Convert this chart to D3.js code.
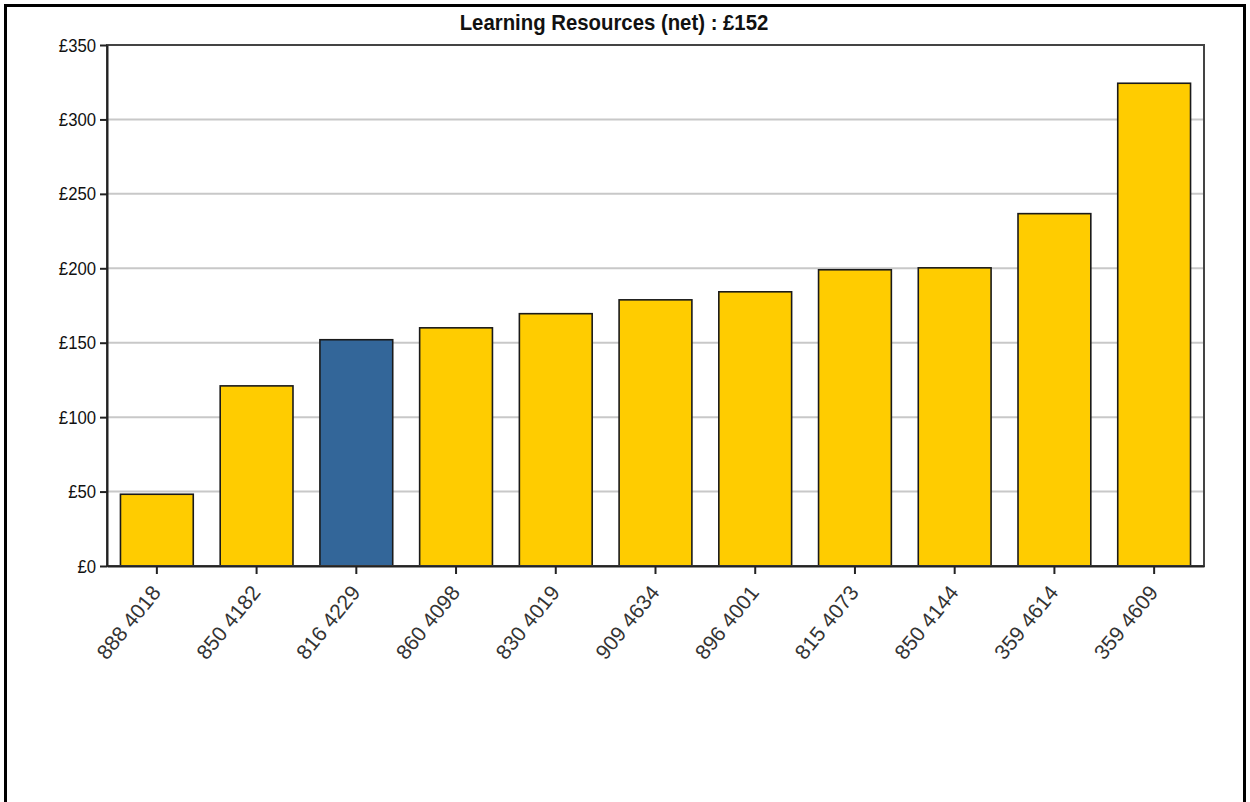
<!DOCTYPE html>
<html>
<head>
<meta charset="utf-8">
<script src="https://cdn.jsdelivr.net/npm/d3@7"></script>
<style>
  html, body { margin: 0; padding: 0; background: #fff; }
  svg { display: block; }
</style>
</head>
<body>
<svg id="chart" width="1250" height="802"></svg>
<script>
const titleText = "Learning Resources (net) : £152";
const categories = ["888 4018", "850 4182", "816 4229", "860 4098", "830 4019", "909 4634", "896 4001", "815 4073", "850 4144", "359 4614", "359 4609"];
const values = [48.2, 121, 152, 160, 169.5, 178.8, 184.2, 199, 200.3, 236.7, 324.3];
const highlighted = ["816 4229"];
const yTicks = [0, 50, 100, 150, 200, 250, 300, 350];

const svg = d3.select("#chart");
const plot = { left: 107, right: 1204, top: 45, bottom: 566 };

// outer frame
svg.append("rect").attr("x", 5.5).attr("y", 5.5).attr("width", 1239).attr("height", 900)
  .attr("fill", "none").attr("stroke", "#000").attr("stroke-width", 3);

const x = d3.scaleBand().domain(categories).range([plot.left, plot.right])
  .paddingInner(0.27).paddingOuter(0.135);
const y = d3.scaleLinear().domain([0, 350]).range([plot.bottom, plot.top]);

// gridlines
svg.append("g").selectAll("line").data(yTicks.filter(d => d > 0 && d < 350)).join("line")
  .attr("x1", plot.left).attr("x2", plot.right)
  .attr("y1", d => y(d)).attr("y2", d => y(d))
  .attr("stroke", "#c8c8c8").attr("stroke-width", 2);

// bars
svg.append("g").selectAll("rect").data(categories).join("rect")
  .attr("x", d => x(d)).attr("width", x.bandwidth())
  .attr("y", (d, i) => y(values[i])).attr("height", (d, i) => y(0) - y(values[i]))
  .attr("fill", d => highlighted.includes(d) ? "#336699" : "#FFCC00")
  .attr("stroke", "#1a1a1a").attr("stroke-width", 1.6);

// plot frame
svg.append("rect").attr("x", plot.left).attr("y", plot.top)
  .attr("width", plot.right - plot.left).attr("height", plot.bottom - plot.top)
  .attr("fill", "none").attr("stroke", "#444").attr("stroke-width", 2);

const font = "'Liberation Sans', Arial, sans-serif";

// y axis
const yAxis = d3.axisLeft(y).tickValues(yTicks).tickFormat(d => "£" + d).tickSize(7).tickSizeOuter(0);
const gy = svg.append("g").attr("transform", `translate(${plot.left},0)`).call(yAxis);
gy.select(".domain").attr("stroke", "#222").attr("stroke-width", 2);
gy.selectAll(".tick line").attr("stroke", "#222").attr("stroke-width", 2);
gy.selectAll(".tick text").attr("font-family", font).attr("font-size", 19).attr("fill", "#111")
  .attr("x", 0).attr("transform", "translate(-11,0) scale(0.88,1)");

// x axis
const xAxis = d3.axisBottom(x).tickSize(8).tickSizeOuter(0);
const gx = svg.append("g").attr("transform", `translate(0,${plot.bottom})`).call(xAxis);
gx.select(".domain").attr("stroke", "#222").attr("stroke-width", 2);
gx.selectAll(".tick line").attr("stroke", "#222").attr("stroke-width", 2);
gx.selectAll(".tick text").attr("font-family", font).attr("font-size", 21).attr("fill", "#333")
  .attr("text-anchor", "end").attr("x", 0).attr("y", 0).attr("dy", 0)
  .attr("transform", "translate(5,27) rotate(-51)");

// title
svg.append("text").attr("text-anchor", "middle")
  .attr("transform", "translate(614,29.5) scale(0.905,1)")
  .attr("font-family", font).attr("font-weight", "bold").attr("font-size", 22.5)
  .attr("fill", "#111").text(titleText);
</script>
</body>
</html>
